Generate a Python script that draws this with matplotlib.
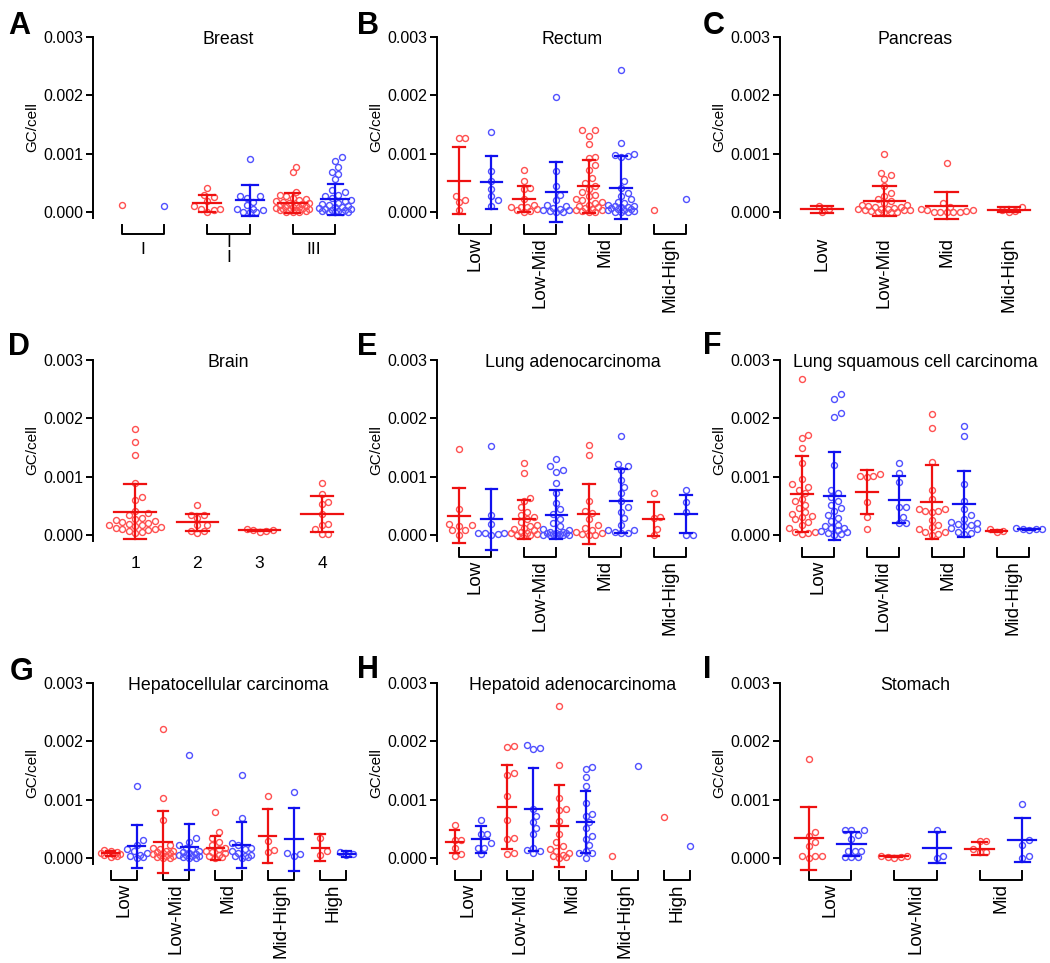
import numpy as np
import matplotlib
matplotlib.use("Agg")
import matplotlib.pyplot as plt

plt.rcParams['font.family'] = ['Liberation Sans', 'DejaVu Sans']

nan = float('nan')

# ---- A: Breast ----
A_groups = ["I", "I\nI", "III"]
A_red = [[0.00013],
         [0.00042, 0.00029, 0.00026, 0.00019, 0.00011, 0.00005, 0.00005, 0.00004, 0.00001],
         [0.00078, 0.00068, 0.00035, 0.0003, 0.00027, 0.00025, 0.00022, 0.0002, 0.00019, 0.00017,
          0.00016, 0.00015, 0.00014, 0.00013, 0.00012, 0.00011, 0.0001, 0.00009, 0.00008, 0.00007,
          0.00006, 0.00005, 0.00005, 0.00004, 0.00003, 0.00003, 0.00002, 0.00001, 0.0, 0.0]]
A_red_mean = [nan, 0.00015, 0.000155]
A_red_sd = [nan, 0.00014, 0.00017]
A_blue = [[0.0001],
          [0.00091, 0.00028, 0.00027, 0.00024, 0.00018, 0.00012, 0.00005, 0.00005, 0.00004, 0.00001, 0.0, 0.0],
          [0.00094, 0.00088, 0.00078, 0.00069, 0.00066, 0.00056, 0.00038, 0.00034, 0.0003, 0.00027,
           0.00024, 0.00021, 0.00019, 0.00016, 0.00014, 0.00012, 0.0001, 0.00009, 0.00008, 0.00007,
           0.00006, 0.00005, 0.00004, 0.00003, 0.00002, 0.00002, 0.00001, 0.0, 0.0, 0.0]]
A_blue_mean = [nan, 0.0002, 0.00022]
A_blue_sd = [nan, 0.00026, 0.00027]

# ---- B: Rectum ----
B_groups = ["Low", "Low-Mid", "Mid", "Mid-High"]
B_red = [[0.00127, 0.00127, 0.00027, 0.0002, 0.00017, 0.00003],
         [0.00073, 0.00053, 0.00041, 0.0004, 0.00022, 0.00012, 0.00009, 0.00008, 0.00008, 0.00005,
          0.00003, 0.00002, 0.0],
         [0.0014, 0.0014, 0.00131, 0.00116, 0.00094, 0.00092, 0.00081, 0.00072, 0.00058, 0.0005,
          0.00044, 0.0004, 0.00035, 0.0003, 0.00027, 0.00023, 0.0002, 0.00017, 0.00015, 0.00013,
          0.0001, 0.00008, 0.00007, 0.00005, 0.00004, 0.00003, 0.00002, 0.0, 0.0],
         [0.00003]]
B_red_mean = [0.00054, 0.00023, 0.00044, nan]
B_red_sd = [0.00057, 0.00022, 0.00046, nan]
B_blue = [[0.00137, 0.0007, 0.00053, 0.0004, 0.00028, 0.0002, 0.00011],
          [0.00197, 0.0007, 0.00045, 0.0003, 0.0002, 0.00012, 0.0001, 0.00007, 0.00006, 0.00004,
           0.00003, 0.00002, 0.00001, 0.0],
          [0.00244, 0.00118, 0.001, 0.00098, 0.00096, 0.00094, 0.00053, 0.00042, 0.00033, 0.00028,
           0.00022, 0.00018, 0.00015, 0.00012, 0.0001, 0.0001, 0.00009, 0.00008, 0.00007, 0.00006,
           0.00005, 0.00004, 0.00003, 0.00002, 0.00001, 0.0, 0.0],
          [0.00023]]
B_blue_mean = [0.00051, 0.00035, 0.00042, nan]
B_blue_sd = [0.00046, 0.00051, 0.00054, nan]

# ---- C: Pancreas (one series) ----
C_groups = ["Low", "Low-Mid", "Mid", "Mid-High"]
C_red = [[0.0001, 0.00005, 0.0],
         [0.001, 0.00067, 0.00063, 0.00057, 0.00045, 0.00033, 0.00028, 0.00022, 0.00019, 0.00016,
          0.00013, 0.00012, 0.0001, 0.00009, 0.00008, 0.00007, 0.00006, 0.00005, 0.00005, 0.00004,
          0.00003, 0.00003, 0.00002, 0.00001, 0.0, 0.0, 0.0],
         [0.00084, 0.00015, 0.00008, 0.00006, 0.00004, 0.00003, 0.00002, 0.00001, 0.0, 0.0, 0.0, 0.0],
         [0.00009, 0.00004, 0.00002, 0.0]]
C_red_mean = [0.00005, 0.00019, 0.00011, 0.00004]
C_red_sd = [0.00006, 0.00025, 0.00023, 0.00004]

# ---- D: Brain (one series) ----
D_groups = ["1", "2", "3", "4"]
D_red = [[0.00182, 0.00159, 0.00137, 0.00089, 0.00066, 0.0006, 0.00042, 0.00038, 0.00035, 0.0003,
          0.00028, 0.00026, 0.00024, 0.00022, 0.0002, 0.00019, 0.00018, 0.00017, 0.00015, 0.00014,
          0.00013, 0.00011, 0.0001, 0.00008, 0.00007, 0.00005, 0.00003],
         [0.00051, 0.00034, 0.00034, 0.00029, 0.00017, 0.00017, 0.00007, 0.00007, 0.00003],
         [0.0001, 0.00008, 0.00008, 0.00007, 0.00006],
         [0.00089, 0.00071, 0.00057, 0.00053, 0.00036, 0.00019, 0.00017, 0.00011, 0.00002, 0.00002]]
D_red_mean = [0.0004, 0.00022, 0.00008, 0.00036]
D_red_sd = [0.00047, 0.00015, 0.00001, 0.00031]

# ---- E: Lung adenocarcinoma ----
E_groups = ["Low", "Low-Mid", "Mid", "Mid-High"]
E_red = [[0.00147, 0.00044, 0.00019, 0.00017, 0.00016, 0.00008, 0.00008, 0.0],
         [0.00124, 0.00106, 0.00064, 0.00058, 0.00048, 0.0004, 0.00035, 0.00031, 0.00028, 0.00022,
          0.00018, 0.00015, 0.00012, 0.0001, 0.00008, 0.00006, 0.00004, 0.00003, 0.00002, 0.00001, 0.0, 0.0],
         [0.00154, 0.00137, 0.00059, 0.00042, 0.00038, 0.00028, 0.00017, 0.00012, 0.00009, 0.00005,
          0.00003, 0.00002, 0.0, 0.0],
         [0.00073, 0.00031, 0.00029, 0.00011, 0.0]]
E_red_mean = [0.00033, 0.00027, 0.00036, 0.00028]
E_red_sd = [0.00047, 0.00033, 0.00051, 0.00029]
E_blue = [[0.00153, 0.00034, 0.00019, 0.00003, 0.00003, 0.00003, 0.00002, 0.00001],
          [0.0013, 0.00118, 0.00111, 0.00109, 0.0009, 0.00072, 0.00055, 0.00045, 0.00036, 0.00028,
           0.0002, 0.00015, 0.00011, 0.00008, 0.00006, 0.00005, 0.00004, 0.00003, 0.00003, 0.00002,
           0.00002, 0.00001, 0.0, 0.0, 0.0, 0.0],
          [0.0017, 0.00122, 0.00119, 0.00111, 0.00095, 0.00082, 0.00072, 0.00058, 0.00048, 0.0004,
           0.00029, 0.00018, 0.00009, 0.00008, 0.00006, 0.00004, 0.00003],
          [0.00078, 0.00057, 0.0004, 0.0, 0.0]]
E_blue_mean = [0.00027, 0.00035, 0.00058, 0.00036]
E_blue_sd = [0.00052, 0.00042, 0.00055, 0.00033]

# ---- F: Lung squamous cell carcinoma ----
F_groups = ["Low", "Low-Mid", "Mid", "Mid-High"]
F_red = [[0.00267, 0.00171, 0.00166, 0.00149, 0.00123, 0.00096, 0.00087, 0.00083, 0.00078, 0.00072,
          0.00062, 0.00058, 0.00052, 0.00047, 0.0004, 0.00037, 0.00033, 0.00031, 0.00027, 0.00022,
          0.00018, 0.00012, 0.00006, 0.00005, 0.00004, 0.00002],
         [0.00105, 0.00102, 0.00101, 0.00099, 0.00057, 0.00031, 0.0001],
         [0.00207, 0.00183, 0.00126, 0.00077, 0.00062, 0.00045, 0.00044, 0.00042, 0.00041, 0.0004,
          0.00026, 0.00018, 0.00014, 0.0001, 0.00006, 0.00005, 0.00002, 0.0],
         [0.0001, 0.00007, 0.00005]]
F_red_mean = [0.0007, 0.00074, 0.00057, 0.00007]
F_red_sd = [0.00065, 0.00037, 0.00063, 0.00002]
F_blue = [[0.00242, 0.00233, 0.0021, 0.00203, 0.00121, 0.00078, 0.00072, 0.00066, 0.00058, 0.00052,
           0.00046, 0.00042, 0.00035, 0.0003, 0.00025, 0.00018, 0.00015, 0.00013, 0.00012, 0.00009,
           0.00007, 0.00005, 0.00003, 0.00002, 0.00001],
          [0.00124, 0.00106, 0.00091, 0.00049, 0.00048, 0.00031, 0.0002, 0.0002],
          [0.00187, 0.0017, 0.00087, 0.00058, 0.00045, 0.00035, 0.00028, 0.00022, 0.00021, 0.00019,
           0.00018, 0.00015, 0.00012, 0.0001, 0.00006, 0.00003, 0.00002],
          [0.00012, 0.00011, 0.0001, 0.0001, 0.00009]]
F_blue_mean = [0.00067, 0.00061, 0.00053, 0.0001]
F_blue_sd = [0.00076, 0.0004, 0.00057, 0.00001]

# ---- G: Hepatocellular carcinoma ----
G_groups = ["Low", "Low-Mid", "Mid", "Mid-High", "High"]
G_red = [[0.00014, 0.00012, 0.0001, 0.00009, 0.00008, 0.00007, 0.00006, 0.00005, 0.00004, 0.00002],
         [0.00222, 0.00103, 0.00065, 0.00022, 0.00018, 0.00015, 0.00013, 0.00012, 0.0001, 0.00009,
          0.00008, 0.00007, 0.00005, 0.00004, 0.00003, 0.00002, 0.00001, 0.0],
         [0.00079, 0.00044, 0.00035, 0.00028, 0.00022, 0.00018, 0.00015, 0.00012, 0.0001, 0.00008,
          0.00006, 0.00004, 0.00002, 0.0],
         [0.00106, 0.0003, 0.00014, 0.0001],
         [0.00035, 0.00012, 0.00006]]
G_red_mean = [0.00008, 0.00028, 0.00017, 0.00038, 0.00018]
G_red_sd = [0.00004, 0.00053, 0.00021, 0.00047, 0.00023]
G_blue = [[0.00123, 0.00031, 0.00022, 0.00015, 0.00012, 0.00008, 0.00005, 0.00003, 0.00002, 0.00001],
          [0.00177, 0.00035, 0.00028, 0.00022, 0.00018, 0.00015, 0.00012, 0.0001, 0.00008, 0.00007,
           0.00006, 0.00005, 0.00004, 0.00003, 0.00002, 0.00001, 0.0],
          [0.00143, 0.00069, 0.00026, 0.00022, 0.00018, 0.00015, 0.00012, 0.00008, 0.00006, 0.00004,
           0.00003, 0.00002, 0.00001],
          [0.00113, 0.00008, 0.00007, 0.00003],
          [0.0001, 0.00007, 0.00005]]
G_blue_mean = [0.0002, 0.00019, 0.00023, 0.00032, 0.00007]
G_blue_sd = [0.00037, 0.0004, 0.00039, 0.00054, 0.00005]

# ---- H: Hepatoid adenocarcinoma ----
H_groups = ["Low", "Low-Mid", "Mid", "Mid-High", "High"]
H_red = [[0.00056, 0.00031, 0.00031, 0.00018, 0.00007, 0.00004],
         [0.00192, 0.0019, 0.00146, 0.00142, 0.00106, 0.00066, 0.00035, 0.00032, 0.00008, 0.00007],
         [0.0026, 0.0016, 0.00103, 0.00085, 0.00082, 0.00063, 0.00042, 0.00028, 0.0002, 0.00016,
          0.00012, 0.00009, 0.00006, 0.00004, 0.00002, 0.00001],
         [0.00004],
         [0.0007]]
H_red_mean = [0.00028, 0.00088, 0.00055, nan, nan]
H_red_sd = [0.0002, 0.00072, 0.0007, nan, nan]
H_blue = [[0.00066, 0.00041, 0.00041, 0.00026, 0.00018, 0.00018, 0.00007],
          [0.00194, 0.00189, 0.00187, 0.00084, 0.00073, 0.00062, 0.00052, 0.00042, 0.00018, 0.00014,
           0.00012, 0.00008],
          [0.00156, 0.00153, 0.00139, 0.00123, 0.00095, 0.00075, 0.00072, 0.00062, 0.00052, 0.00038,
           0.00033, 0.00022, 0.00012, 0.00009, 0.00008, 0.00001],
          [0.00157],
          [0.00021]]
H_blue_mean = [0.00032, 0.00084, 0.00062, nan, nan]
H_blue_sd = [0.00023, 0.00071, 0.00053, nan, nan]

# ---- I: Stomach ----
I_groups = ["Low", "Low-Mid", "Mid"]
I_red = [[0.00169, 0.00044, 0.00038, 0.00028, 0.0002, 0.00004, 0.00004, 0.00004, 0.0],
         [0.00004, 0.00003, 0.00002, 0.00002, 0.00001],
         [0.00029, 0.00029, 0.00016, 0.0001, 0.0001]]
I_red_mean = [0.00034, 0.00003, 0.00016]
I_red_sd = [0.00054, 0.00001, 0.00011]
I_blue = [[0.00049, 0.00049, 0.00049, 0.0004, 0.00032, 0.00012, 0.00012, 0.00012, 0.00002, 0.00002, 0.00002],
          [0.00048, 0.00003, 0.00001],
          [0.00093, 0.00031, 0.00022, 0.00004, 0.00001]]
I_blue_mean = [0.00024, 0.00018, 0.00031]
I_blue_sd = [0.0002, 0.00027, 0.00037]

RED = '#ee1111'
BLUE = '#1111ee'
RED_PT = '#ff5050'
BLUE_PT = '#5050ff'

W, H = 1050, 963
AX_W, AX_H = 271, 181
YMIN, YMAX = -0.0001, 0.003
PAD = 0.675


def swarm(vals, ppx, ppy, d=6.5):
    # simple beeswarm in pixel space, limited to the width of one slot
    vals = np.asarray(vals, dtype=float)
    offs = np.zeros(len(vals))
    cap = 0.42 * ppx
    step = d / 2
    cands = [0.0]
    k = 1
    while k * step <= cap:
        cands += [k * step, -k * step]
        k += 1
    placed = []
    for i in np.argsort(vals):
        y = vals[i] * ppy
        best, best_d = 0.0, -1
        for c in cands:
            md = min([np.hypot(c - px, y - py) for px, py in placed] + [99])
            if md >= d:
                best = c
                break
            if md > best_d:
                best, best_d = c, md
        offs[i] = best
        placed.append((best, y))
    return offs / ppx


def draw_series(ax, x, vals, mean, sd, col, ptcol, ppx, ppy):
    offs = swarm(vals, ppx, ppy)
    ax.plot(x + offs, vals, 'o', ms=4.3, mfc='none', mec=ptcol, mew=1.0, zorder=2, clip_on=False)
    if not np.isnan(mean):
        ax.plot([x - 0.33, x + 0.33], [mean, mean], color=col, lw=1.6, zorder=3, clip_on=False)
        ax.plot([x, x], [mean - sd, mean + sd], color=col, lw=1.6, zorder=3, clip_on=False)
        for yy in (mean - sd, mean + sd):
            ax.plot([x - 0.18, x + 0.18], [yy, yy], color=col, lw=1.6, zorder=3, clip_on=False)


def panel(left, top, title, groups, red, rmean, rsd,
          blue=None, bmean=None, bsd=None, rotate=True, label_y=-32):
    ax = fig.add_axes([left / W, 1 - (top + AX_H) / H, AX_W / W, AX_H / H])
    per = 2 if blue is not None else 1
    n = len(groups) * per
    ax.set_xlim(-PAD, n - 1 + PAD)
    ax.set_ylim(YMIN, YMAX)
    ppx = AX_W / (n - 1 + 2 * PAD)
    ppy = AX_H / (YMAX - YMIN)
    tr = ax.get_xaxis_transform()
    for g in range(len(groups)):
        xr = g * per
        draw_series(ax, xr, red[g], rmean[g], rsd[g], RED, RED_PT, ppx, ppy)
        if blue is not None:
            draw_series(ax, xr + 1, blue[g], bmean[g], bsd[g], BLUE, BLUE_PT, ppx, ppy)
            y1, y2 = -7 / AX_H, -16 / AX_H
            ax.plot([xr, xr, xr + 1, xr + 1], [y1, y2, y2, y1], color='black', lw=1.4,
                    transform=tr, clip_on=False)
        xc = xr + (per - 1) / 2
        if rotate:
            ax.text(xc, -19 / AX_H, groups[g], rotation=90, ha='center', va='top',
                    fontsize=13.5, transform=tr)
        else:
            ax.text(xc, label_y / AX_H, groups[g], ha='center', va='center', fontsize=12.5,
                    linespacing=1.0, transform=tr)
    for s in ('top', 'right', 'bottom'):
        ax.spines[s].set_visible(False)
    ax.spines['left'].set_linewidth(1.4)
    ax.set_xticks([])
    ax.set_yticks([0, 0.001, 0.002, 0.003])
    ax.set_yticklabels(['0.000', '0.001', '0.002', '0.003'])
    ax.tick_params(axis='y', direction='out', length=5, width=1.4, labelsize=11.5, pad=2)
    ax.text(-61 / AX_W, 0.5, 'GC/cell', rotation=90, ha='center', va='center', fontsize=11,
            transform=ax.transAxes)
    ax.text(0.5, 1.0 - 2 / AX_H, title, ha='center', va='center', fontsize=12.8,
            transform=ax.transAxes)
    return ax


fig = plt.figure(figsize=(W / 100, H / 100), dpi=100)

cols = [93, 437, 780]
rows = [37, 360, 683]

panel(cols[0], rows[0], 'Breast', A_groups, A_red, A_red_mean, A_red_sd,
      A_blue, A_blue_mean, A_blue_sd, rotate=False, label_y=-32)
panel(cols[1], rows[0], 'Rectum', B_groups, B_red, B_red_mean, B_red_sd,
      B_blue, B_blue_mean, B_blue_sd)
panel(cols[2], rows[0], 'Pancreas', C_groups, C_red, C_red_mean, C_red_sd)
panel(cols[0], rows[1], 'Brain', D_groups, D_red, D_red_mean, D_red_sd, rotate=False, label_y=-22)
panel(cols[1], rows[1], 'Lung adenocarcinoma', E_groups, E_red, E_red_mean, E_red_sd,
      E_blue, E_blue_mean, E_blue_sd)
panel(cols[2], rows[1], 'Lung squamous cell carcinoma', F_groups, F_red, F_red_mean, F_red_sd,
      F_blue, F_blue_mean, F_blue_sd)
panel(cols[0], rows[2], 'Hepatocellular carcinoma', G_groups, G_red, G_red_mean, G_red_sd,
      G_blue, G_blue_mean, G_blue_sd)
panel(cols[1], rows[2], 'Hepatoid adenocarcinoma', H_groups, H_red, H_red_mean, H_red_sd,
      H_blue, H_blue_mean, H_blue_sd)
panel(cols[2], rows[2], 'Stomach', I_groups, I_red, I_red_mean, I_red_sd,
      I_blue, I_blue_mean, I_blue_sd)

# panel letters
letters = ['A', 'B', 'C', 'D', 'E', 'F', 'G', 'H', 'I']
letter_x = [8, 357, 703, 8, 357, 703, 10, 357, 703]
letter_y = [26, 26, 26, 347, 347, 346, 672, 670, 670]
for t, lx, ly in zip(letters, letter_x, letter_y):
    fig.text(lx / W, 1 - ly / H, t, fontsize=22, fontweight='bold', ha='left', va='center')

fig.savefig('out.png', dpi=100)
